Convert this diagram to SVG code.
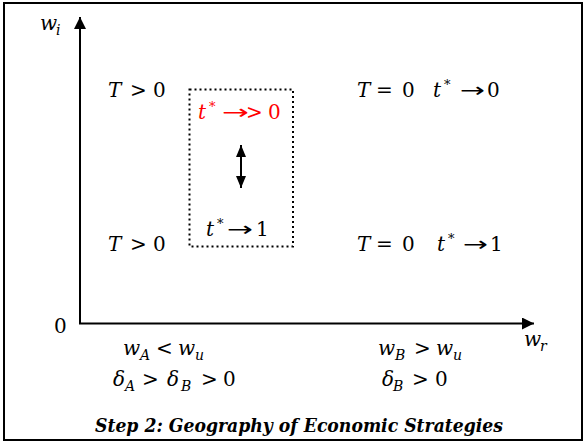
<svg xmlns="http://www.w3.org/2000/svg" width="584" height="444" viewBox="0 0 584 444">
<style>
text{font-family:"DejaVu Serif","Liberation Serif",serif;font-size:20px;fill:#000}
.i{font-style:italic}
.s{font-size:14px}
.sup{font-size:13px}
.ar{font-family:"DejaVu Sans","Liberation Sans",sans-serif}
.red{fill:#ff0000}
.title{font-size:18px;font-weight:bold;font-style:italic}
</style>
<defs>
<marker id="ah" viewBox="0 0 12 12" refX="12" refY="6" markerWidth="12" markerHeight="12" markerUnits="userSpaceOnUse" orient="auto-start-reverse">
<path d="M0,0 L12,6 L0,12 Z" fill="#000"/>
</marker>
<marker id="ah2" viewBox="0 0 12 10" refX="12" refY="5" markerWidth="12" markerHeight="10" markerUnits="userSpaceOnUse" orient="auto-start-reverse">
<path d="M0,0 L12,5 L0,10 Z" fill="#000"/>
</marker>
</defs>
<rect x="4" y="3" width="578" height="437" fill="#fff" stroke="#000" stroke-width="2"/>
<g id="connectors">
<line x1="80" y1="324" x2="80" y2="17" stroke="#000" stroke-width="2" marker-end="url(#ah)"/>
<line x1="79" y1="323.5" x2="534" y2="323.5" stroke="#000" stroke-width="2" marker-end="url(#ah)"/>
<line x1="241" y1="145" x2="241" y2="188" stroke="#000" stroke-width="2" marker-start="url(#ah2)" marker-end="url(#ah2)"/>
</g>
<g id="box">
<rect x="189.5" y="89.5" width="103.5" height="157" fill="none" stroke="#000" stroke-width="2" stroke-dasharray="2 3"/>
</g>
<g id="axis-labels">
<text class="i" x="40" y="30">w</text><text class="i s" x="56" y="35">i</text>
<text x="54" y="333">0</text>
<text class="i" x="524" y="346">w</text><text class="i s" x="540" y="351">r</text>
</g>
<g id="q1"><text class="i" x="108" y="97">T</text><text x="130" y="97">&gt;</text><text x="153" y="97">0</text></g>
<g id="q2"><text class="i" x="108" y="251">T</text><text x="130" y="251">&gt;</text><text x="153" y="251">0</text></g>
<g id="q3"><text class="i" x="357" y="97">T</text><text x="376" y="97">=</text><text x="402" y="97">0</text>
<text class="i" x="433" y="97">t</text><text class="sup" x="444" y="89">*</text><text class="ar" x="460" y="97" textLength="25" lengthAdjust="spacingAndGlyphs">→</text><text x="487" y="97">0</text></g>
<g id="q4"><text class="i" x="357" y="251">T</text><text x="376" y="251">=</text><text x="402" y="251">0</text>
<text class="i" x="437" y="251">t</text><text class="sup" x="448" y="243">*</text><text class="ar" x="463" y="251" textLength="25" lengthAdjust="spacingAndGlyphs">→</text><text x="490" y="251">1</text></g>
<g id="red"><text class="i red" x="198" y="119">t</text><text class="sup red" x="209" y="111">*</text><text class="ar red" x="222" y="119" textLength="27" lengthAdjust="spacingAndGlyphs">→</text><text class="red" x="246" y="119">&gt;</text><text class="red" x="268" y="119">0</text></g>
<g id="t1"><text class="i" x="206" y="236">t</text><text class="sup" x="217" y="228">*</text><text class="ar" x="227" y="236" textLength="26" lengthAdjust="spacingAndGlyphs">→</text><text x="256" y="236">1</text></g>
<g id="left-cond">
<text class="i" x="123" y="355">w</text><text class="i s" x="140" y="360">A</text><text x="156" y="355">&lt;</text><text class="i" x="178" y="355">w</text><text class="i s" x="195" y="360">u</text>
<text class="i" x="113" y="386">δ</text><text class="i s" x="125" y="391">A</text><text x="142" y="386">&gt;</text><text class="i" x="167" y="386">δ</text><text class="i s" x="181" y="391">B</text><text x="201" y="386">&gt;</text><text x="223" y="386">0</text>
</g>
<g id="right-cond">
<text class="i" x="378" y="355">w</text><text class="i s" x="395" y="360">B</text><text x="414" y="355">&gt;</text><text class="i" x="436" y="355">w</text><text class="i s" x="453" y="360">u</text>
<text class="i" x="382" y="386">δ</text><text class="i s" x="393" y="391">B</text><text x="412" y="386">&gt;</text><text x="435" y="386">0</text>
</g>
<g id="title"><text class="title" x="95" y="432" textLength="408" lengthAdjust="spacingAndGlyphs">Step 2: Geography of Economic Strategies</text></g>
</svg>
